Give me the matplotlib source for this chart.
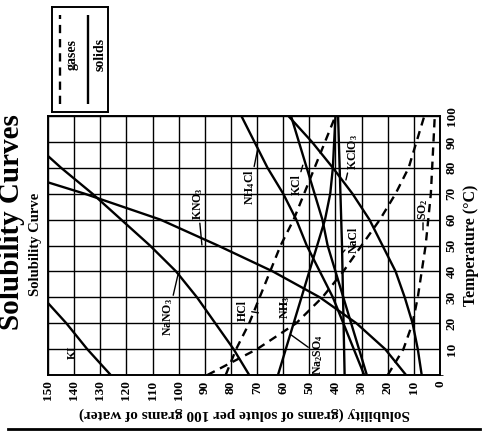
import matplotlib
matplotlib.use("Agg")
import matplotlib.pyplot as plt

# page is printed sideways: solubility runs right-to-left, temperature bottom-to-top
temps = [0, 10, 20, 30, 40, 50, 60, 70, 80, 90, 100]

# solids (grams of solute per 100 g water)
ki_t = [0, 10, 20, 30]
ki_s = [126, 135, 143, 152]
nano3_s = [73, 79, 86, 93, 101, 111, 122, 133, 145, 156, 167]
kno3_t = [0, 10, 20, 30, 40, 50, 60, 70, 80]
kno3_s = [13, 21, 32, 46, 64, 85, 107, 136, 168]
nh4cl_s = [29, 33, 37, 41, 46, 51, 55, 60, 66, 71, 76]
kcl_s = [28, 31, 34, 37, 40, 43, 45, 48, 51, 54, 57]
kclo3_s = [7, 8.5, 10.5, 13.5, 17, 22, 27, 33.5, 41, 49, 58]
nacl_s = [36.5, 36.7, 36.9, 37.1, 37.3, 37.5, 37.8, 38.1, 38.4, 38.7, 39]
na2so4_s = [62, 59, 56, 53, 50, 47, 44, 42, 41, 40.5, 40]

# gases
hcl_s = [82, 78, 73, 69, 65, 61, 56, 52, 48, 44, 40]
nh3_s = [89, 70, 55, 45, 37, 30, 23, 17, 12, 9, 6]
so2_s = [20, 14, 10.5, 8.5, 7, 5.5, 4.5, 3.5, 3, 2.5, 2]

sol_ticks = [150, 140, 130, 120, 110, 100, 90, 80, 70, 60, 50, 40, 30, 20, 10, 0]
temp_ticks = [10, 20, 30, 40, 50, 60, 70, 80, 90, 100]

plt.rcParams["font.family"] = ["Liberation Serif", "DejaVu Serif"]
plt.rcParams["font.weight"] = "bold"
plt.rcParams["mathtext.fontset"] = "custom"
plt.rcParams["mathtext.rm"] = "Liberation Serif:bold"
plt.rcParams["mathtext.default"] = "rm"

fig = plt.figure(figsize=(4.86, 4.37), dpi=100)
ax = fig.add_axes([48 / 486, 1 - 375 / 437, 392 / 486, 259 / 437])

SOLID = dict(color="black", linewidth=1.7, solid_capstyle="butt")
GAS = dict(color="black", linewidth=1.7, linestyle=(0, (3.5, 2.5)))

ax.plot(ki_s, ki_t, **SOLID)
ax.plot(nano3_s, temps, **SOLID)
ax.plot(kno3_s, kno3_t, **SOLID)
ax.plot(nh4cl_s, temps, **SOLID)
ax.plot(kcl_s, temps, **SOLID)
ax.plot(kclo3_s, temps, **SOLID)
ax.plot(nacl_s, temps, **SOLID)
ax.plot(na2so4_s, temps, **SOLID)
ax.plot(hcl_s, temps, **GAS)
ax.plot(nh3_s, temps, **GAS)
ax.plot(so2_s, temps, **GAS)

ax.set_xlim(150, 0)
ax.set_ylim(0, 100)
ax.set_xticks(sol_ticks)
ax.set_yticks(temp_ticks)
ax.set_yticks([0], minor=True)
ax.set_xticklabels([str(v) for v in sol_ticks], rotation=90, fontsize=9.5, fontweight="bold")
ax.set_yticklabels([str(v) for v in temp_ticks], rotation=90, fontsize=9.5, fontweight="bold",
                   va="center")
ax.yaxis.tick_right()
ax.tick_params(length=0, pad=4)
ax.grid(True, color="black", linewidth=1.0)
for sp in ax.spines.values():
    sp.set_linewidth(1.4)

ax.set_xlabel("Solubility (grams of solute per 100 grams of water)", fontsize=11,
              fontweight="bold", rotation=180, labelpad=5)
ax.yaxis.set_label_position("right")
ax.set_ylabel("Temperature (\u00b0C)", fontsize=11.5, fontweight="bold", rotation=90, labelpad=4)

lab = dict(rotation=90, fontsize=8.5, fontweight="bold", ha="center", va="center")
arr = dict(arrowstyle="-", color="black", linewidth=1.0, shrinkA=0, shrinkB=0)
ax.text(140.5, 8.9, "KI", **lab)
ax.annotate("NaNO$_3$", xy=(100.3, 38.6), xytext=(104, 22.4), arrowprops=arr, **lab)
ax.annotate("KNO$_3$", xy=(91.1, 50.2), xytext=(92.6, 66), arrowprops=arr, **lab)
ax.annotate("NH$_4$Cl", xy=(69.7, 87.6), xytext=(72.7, 72.5), arrowprops=arr, **lab)
ax.annotate("KCl", xy=(52.5, 81), xytext=(54.7, 73.4), arrowprops=arr, **lab)
ax.annotate("KClO$_3$", xy=(36, 75.3), xytext=(33.5, 86), arrowprops=arr, **lab)
ax.annotate("NaCl", xy=(37.5, 47), xytext=(33, 52), arrowprops=arr, **lab)
ax.annotate("HCl", xy=(69.5, 24), xytext=(75.4, 25), arrowprops=arr, **lab)
ax.annotate("NH$_3$", xy=(55, 20), xytext=(59.3, 26), arrowprops=arr, **lab)
ax.annotate("Na$_2$SO$_4$", xy=(57, 15.5), xytext=(46.7, 8), arrowprops=arr, **lab)
ax.annotate("SO$_2$", xy=(6.5, 56), xytext=(6.5, 64), arrowprops=arr, **lab)

# legend box
lg = fig.add_axes([52 / 486, 1 - 112 / 437, 56 / 486, 105 / 437])
lg.set_xlim(0, 1)
lg.set_ylim(0, 1)
lg.set_xticks([])
lg.set_yticks([])
for sp in lg.spines.values():
    sp.set_linewidth(1.4)
lg.plot([0.15, 0.15], [0.08, 0.92], **GAS)
lg.plot([0.65, 0.65], [0.08, 0.92], **SOLID)
lg.text(0.36, 0.55, "gases", rotation=90, fontsize=10, fontweight="bold", ha="center", va="center")
lg.text(0.86, 0.55, "solids", rotation=90, fontsize=10, fontweight="bold", ha="center", va="center")

fig.text(12 / 486, 1 - 222 / 437, "Solubility Curves", rotation=90, fontsize=21,
         fontweight="bold", ha="center", va="center")
fig.text(35 / 486, 1 - 244 / 437, "Solubility Curve", rotation=90, fontsize=10.5,
         fontweight="bold", ha="center", va="center")

fig.add_artist(plt.Line2D([8 / 486, 480 / 486], [1 - 429 / 437, 1 - 429 / 437],
                          color="black", linewidth=2))

fig.savefig("out.png", dpi=100, facecolor="white")
